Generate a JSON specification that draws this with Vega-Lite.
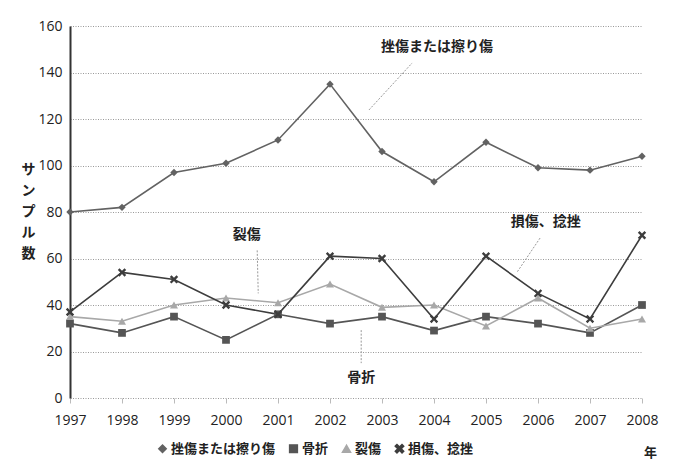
{
  "$schema": "https://vega.github.io/schema/vega-lite/v6.json",
  "width": 572,
  "height": 372,
  "autosize": "none",
  "padding": {"left": 70, "top": 26, "right": 34, "bottom": 75},
  "background": "white",
  "config": {
    "font": "Noto Sans CJK JP",
    "view": {"stroke": null}
  },
  "datasets": {
    "series": [
      {"year": 1997, "type": "挫傷または擦り傷", "value": 80},
      {"year": 1998, "type": "挫傷または擦り傷", "value": 82},
      {"year": 1999, "type": "挫傷または擦り傷", "value": 97},
      {"year": 2000, "type": "挫傷または擦り傷", "value": 101},
      {"year": 2001, "type": "挫傷または擦り傷", "value": 111},
      {"year": 2002, "type": "挫傷または擦り傷", "value": 135},
      {"year": 2003, "type": "挫傷または擦り傷", "value": 106},
      {"year": 2004, "type": "挫傷または擦り傷", "value": 93},
      {"year": 2005, "type": "挫傷または擦り傷", "value": 110},
      {"year": 2006, "type": "挫傷または擦り傷", "value": 99},
      {"year": 2007, "type": "挫傷または擦り傷", "value": 98},
      {"year": 2008, "type": "挫傷または擦り傷", "value": 104},
      {"year": 1997, "type": "骨折", "value": 32},
      {"year": 1998, "type": "骨折", "value": 28},
      {"year": 1999, "type": "骨折", "value": 35},
      {"year": 2000, "type": "骨折", "value": 25},
      {"year": 2001, "type": "骨折", "value": 36},
      {"year": 2002, "type": "骨折", "value": 32},
      {"year": 2003, "type": "骨折", "value": 35},
      {"year": 2004, "type": "骨折", "value": 29},
      {"year": 2005, "type": "骨折", "value": 35},
      {"year": 2006, "type": "骨折", "value": 32},
      {"year": 2007, "type": "骨折", "value": 28},
      {"year": 2008, "type": "骨折", "value": 40},
      {"year": 1997, "type": "裂傷", "value": 35},
      {"year": 1998, "type": "裂傷", "value": 33},
      {"year": 1999, "type": "裂傷", "value": 40},
      {"year": 2000, "type": "裂傷", "value": 43},
      {"year": 2001, "type": "裂傷", "value": 41},
      {"year": 2002, "type": "裂傷", "value": 49},
      {"year": 2003, "type": "裂傷", "value": 39},
      {"year": 2004, "type": "裂傷", "value": 40},
      {"year": 2005, "type": "裂傷", "value": 31},
      {"year": 2006, "type": "裂傷", "value": 43},
      {"year": 2007, "type": "裂傷", "value": 30},
      {"year": 2008, "type": "裂傷", "value": 34},
      {"year": 1997, "type": "損傷、捻挫", "value": 37},
      {"year": 1998, "type": "損傷、捻挫", "value": 54},
      {"year": 1999, "type": "損傷、捻挫", "value": 51},
      {"year": 2000, "type": "損傷、捻挫", "value": 40},
      {"year": 2001, "type": "損傷、捻挫", "value": 36},
      {"year": 2002, "type": "損傷、捻挫", "value": 61},
      {"year": 2003, "type": "損傷、捻挫", "value": 60},
      {"year": 2004, "type": "損傷、捻挫", "value": 34},
      {"year": 2005, "type": "損傷、捻挫", "value": 61},
      {"year": 2006, "type": "損傷、捻挫", "value": 45},
      {"year": 2007, "type": "損傷、捻挫", "value": 34},
      {"year": 2008, "type": "損傷、捻挫", "value": 70}
    ],
    "labels": [
      {"label": "挫傷または擦り傷", "x": 2004.06, "y": 151},
      {"label": "裂傷", "x": 2000.4, "y": 70},
      {"label": "損傷、捻挫", "x": 2006.15, "y": 75.5},
      {"label": "骨折", "x": 2002.6, "y": 8.5}
    ],
    "leaders": [
      {"x": 2002.75, "y": 123.9, "x2": 2003.58, "y2": 144.1},
      {"x": 2000.6, "y": 63.5, "x2": 2000.62, "y2": 45},
      {"x": 2006.04, "y": 68.8, "x2": 2005.6, "y2": 54.2},
      {"x": 2002.6, "y": 29.2, "x2": 2002.6, "y2": 15}
    ]
  },
  "layer": [
    {
      "data": {"name": "series"},
      "mark": {"type": "line", "strokeWidth": 1.6},
      "encoding": {
        "x": {
          "field": "year", "type": "quantitative",
          "scale": {"domain": [1997, 2008], "nice": false, "zero": false},
          "axis": {
            "values": [1997, 1998, 1999, 2000, 2001, 2002, 2003, 2004, 2005, 2006, 2007, 2008],
            "format": "d", "grid": false, "domain": false,
            "tickColor": "#bbbbbb", "tickSize": 5,
            "labelFont": "Open Sans", "labelFontSize": 14, "labelColor": "#222222",
            "labelPadding": 10, "labelFlush": false,
            "title": "年", "titleFont": "Noto Sans CJK JP", "titleFontSize": 13, "titleFontWeight": "bold",
            "titleColor": "#222222", "titleX": 580, "titleY": 54, "titleAngle": 0, "titleAlign": "center", "titleBaseline": "middle"
          }
        },
        "y": {
          "field": "value", "type": "quantitative",
          "scale": {"domain": [0, 160]},
          "axis": {
            "values": [0, 20, 40, 60, 80, 100, 120, 140, 160],
            "gridColor": "#999999", "gridDash": [1, 1.5], "gridWidth": 1,
            "domainColor": "#333333", "domainWidth": 2, "ticks": false,
            "labelFont": "Open Sans", "labelFontSize": 14, "labelColor": "#222222", "labelPadding": 8,
            "title": ["サ", "ン", "プ", "ル", "数"], "titleAngle": 0,
            "titleFont": "Noto Sans CJK JP", "titleFontSize": 14, "titleFontWeight": "bold", "titleColor": "#222222",
            "titleLineHeight": 21, "titleX": -42, "titleY": 136, "titleAlign": "center", "titleBaseline": "top"
          }
        },
        "color": {
          "field": "type", "type": "nominal",
          "sort": ["挫傷または擦り傷", "骨折", "裂傷", "損傷、捻挫"],
          "scale": {"domain": ["挫傷または擦り傷", "骨折", "裂傷", "損傷、捻挫"], "range": ["#626262", "#555555", "#a8a8a8", "#3d3d3d"]},
          "legend": {
            "title": null, "orient": "none", "legendX": 86, "legendY": 416, "direction": "horizontal",
            "labelFont": "Noto Sans CJK JP", "labelFontSize": 13, "labelFontWeight": "bold", "labelColor": "#222222",
            "symbolSize": 50, "columnPadding": 10, "symbolStrokeWidth": 1.5, "labelOffset": 2
          }
        },
        "detail": {"field": "type"}
      }
    },
    {
      "data": {"name": "series"},
      "mark": {"type": "point", "filled": true, "opacity": 1},
      "encoding": {
        "x": {"field": "year", "type": "quantitative"},
        "y": {"field": "value", "type": "quantitative"},
        "color": {
          "field": "type", "type": "nominal",
          "sort": ["挫傷または擦り傷", "骨折", "裂傷", "損傷、捻挫"]
        },
        "shape": {
          "field": "type", "type": "nominal",
          "sort": ["挫傷または擦り傷", "骨折", "裂傷", "損傷、捻挫"],
          "scale": {"domain": ["挫傷または擦り傷", "骨折", "裂傷", "損傷、捻挫"], "range": ["diamond", "square", "triangle-up", "M-1,-0.6L-0.6,-1L0,-0.4L0.6,-1L1,-0.6L0.4,0L1,0.6L0.6,1L0,0.4L-0.6,1L-1,0.6L-0.4,0Z"]},
          "legend": {
            "title": null, "orient": "none", "legendX": 86, "legendY": 416, "direction": "horizontal",
            "labelFont": "Noto Sans CJK JP", "labelFontSize": 13, "labelFontWeight": "bold", "labelColor": "#222222",
            "symbolSize": 50, "columnPadding": 10, "symbolStrokeWidth": 1.5, "labelOffset": 2
          }
        },
        "size": {
          "field": "type", "type": "nominal",
          "scale": {"domain": ["挫傷または擦り傷", "骨折", "裂傷", "損傷、捻挫"], "range": [55, 70, 65, 22]},
          "legend": null
        }
      }
    },
    {
      "mark": {"type": "rule", "color": "#333333", "strokeWidth": 1.5},
      "encoding": {"y": {"datum": 160}}
    },
    {
      "data": {"name": "leaders"},
      "mark": {"type": "rule", "color": "#999999", "strokeWidth": 1, "strokeDash": [2, 1.5]},
      "encoding": {
        "x": {"field": "x", "type": "quantitative"},
        "y": {"field": "y", "type": "quantitative"},
        "x2": {"field": "x2"},
        "y2": {"field": "y2"}
      }
    },
    {
      "data": {"name": "labels"},
      "mark": {"type": "text", "font": "Noto Sans CJK JP", "fontSize": 14, "fontWeight": "bold", "color": "#222222", "align": "center", "baseline": "middle"},
      "encoding": {
        "x": {"field": "x", "type": "quantitative"},
        "y": {"field": "y", "type": "quantitative"},
        "text": {"field": "label"}
      }
    }
  ]
}
